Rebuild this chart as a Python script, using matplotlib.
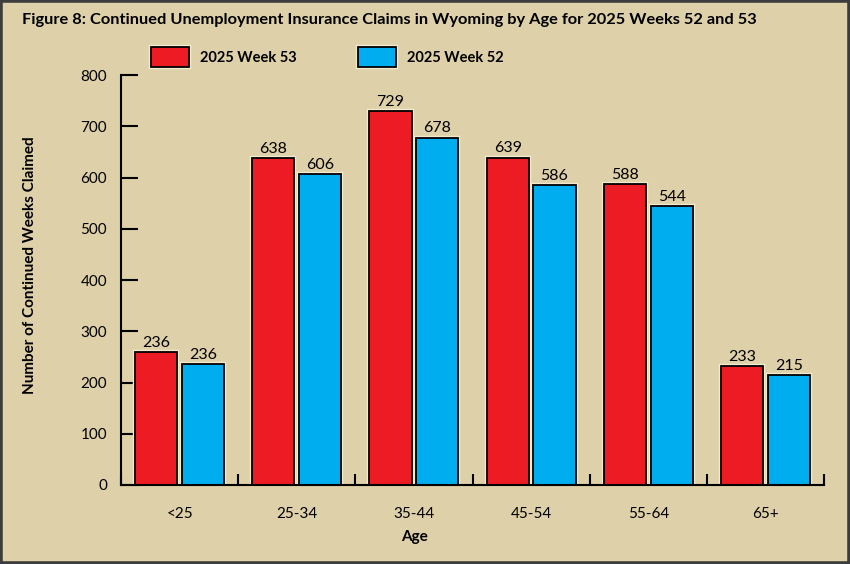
import matplotlib
matplotlib.use('Agg')
import matplotlib.pyplot as plt
import matplotlib.patheffects as pe
from matplotlib.patches import Rectangle
import numpy as np

# data
ages = ['<25', '25-34', '35-44', '45-54', '55-64', '65+']
week53 = [260, 638, 729, 639, 588, 233]   # first bar is drawn taller than its label
week53_labels = ['236', '638', '729', '639', '588', '233']
week52 = [236, 606, 678, 586, 544, 215]
week52_labels = ['236', '606', '678', '586', '544', '215']
yticks = [0, 100, 200, 300, 400, 500, 600, 700, 800]

bg = '#DED0A8'
red = '#ED1C24'
blue = '#00AEEF'

plt.rcParams['font.family'] = ['Lato', 'DejaVu Sans']

fig = plt.figure(figsize=(8.5, 5.64), dpi=100, facecolor=bg)
ax = fig.add_axes([121/850, 1-485/564, 703/850, 410/564])
ax.set_facecolor(bg)

x = np.arange(len(ages))
halo = [pe.Stroke(linewidth=3.2, foreground='#F4EBCF'), pe.Normal()]
b1 = ax.bar(x - 0.2, week53, 0.36, color=red, edgecolor='black', linewidth=1.3,
            label='2025 Week 53', zorder=3)
b2 = ax.bar(x + 0.2, week52, 0.36, color=blue, edgecolor='black', linewidth=1.3,
            label='2025 Week 52', zorder=3)
for b in list(b1) + list(b2):
    b.set_path_effects(halo)

for i in range(len(ages)):
    ax.text(x[i] - 0.2, week53[i] + 4, week53_labels[i], ha='center', va='bottom', fontsize=11.5)
    ax.text(x[i] + 0.2, week52[i] + 4, week52_labels[i], ha='center', va='bottom', fontsize=11.5)

ax.set_xlim(-0.5, len(ages) - 0.5)
ax.set_ylim(0, 800)
ax.set_yticks(yticks)
ax.set_xticks(x)
ax.set_xticklabels(ages, fontsize=11)
ax.set_xticks(np.arange(len(ages) + 1) - 0.5, minor=True)
ax.tick_params(axis='x', which='major', length=0, pad=16)
ax.tick_params(axis='x', which='minor', direction='in', length=8, width=1.5, color='black')
ax.tick_params(axis='y', direction='in', length=12, width=1.5, labelsize=11, pad=10)

for s in ['top', 'right']:
    ax.spines[s].set_visible(False)
for s in ['left', 'bottom']:
    ax.spines[s].set_linewidth(1.5)
    ax.spines[s].set_zorder(4)

leg = ax.legend(handles=[b1, b2], ncol=2, loc='upper left',
                bbox_to_anchor=(151/850, 1-47/564), bbox_transform=fig.transFigure,
                frameon=False, handlelength=2.6, handleheight=1.7, handletextpad=0.75,
                columnspacing=4.2, borderpad=0, borderaxespad=0,
                prop={'weight': 'bold', 'size': 10.5})

fig.text(22/850, 1-20/564, 'Figure 8: Continued Unemployment Insurance Claims in Wyoming by Age for 2025 Weeks 52 and 53',
         ha='left', va='center', fontsize=11.8, fontweight='bold')
fig.text(30/850, 1-265/564, 'Number of Continued Weeks Claimed', rotation=90,
         ha='center', va='center', fontsize=11, fontweight='bold')
fig.text(414/850, 1-537/564, 'Age', ha='center', va='center', fontsize=11, fontweight='bold')

# dark frame around the whole figure
fig.patches.append(Rectangle((0, 0), 1, 1, transform=fig.transFigure, fill=False,
                             edgecolor='#3C3C3C', linewidth=4))

fig.savefig('out.png', dpi=100, facecolor=bg)
